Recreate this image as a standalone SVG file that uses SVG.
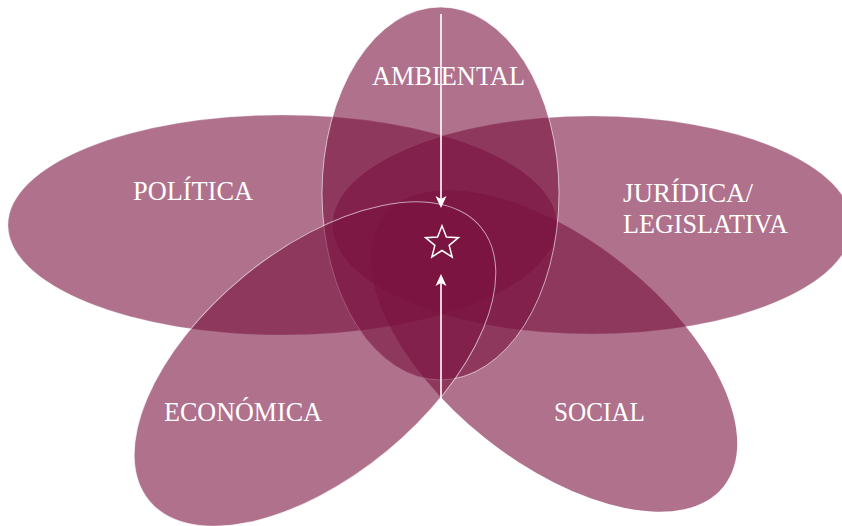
<svg xmlns="http://www.w3.org/2000/svg" width="842" height="526" viewBox="0 0 842 526">
  <style>
    .petal { fill: #7a1340; fill-opacity: 0.6; }
    .line-strong { stroke: #ffffff; stroke-opacity: 0.6; stroke-width: 1; }
    .line-faint { stroke: #ffffff; stroke-opacity: 0.22; stroke-width: 1; }
    .label { font-family: "Liberation Serif", "Times New Roman", serif; font-size: 28px; fill: #ffffff; }
    .conn { stroke: #ffffff; stroke-width: 1.6; fill: none; }
  </style>
  <defs>
    <marker id="arrow" viewBox="-6 -6 12 12" refX="0" refY="0" markerWidth="12" markerHeight="12" markerUnits="userSpaceOnUse" orient="auto">
      <path d="M6,0 L-6,-5.5 L-3,0 L-6,5.5 Z" fill="#ffffff"/>
    </marker>
  </defs>

  <g id="politica">
    <ellipse class="petal line-faint" cx="282.5" cy="225" rx="274.5" ry="110"/>
    <text class="label" x="133" y="200" textLength="120" lengthAdjust="spacingAndGlyphs">POLÍTICA</text>
  </g>

  <g id="juridica">
    <ellipse class="petal line-faint" cx="592" cy="225" rx="260" ry="109"/>
    <text class="label" x="623" y="202" textLength="130" lengthAdjust="spacingAndGlyphs">JURÍDICA/</text>
    <text class="label" x="623" y="233" textLength="165" lengthAdjust="spacingAndGlyphs">LEGISLATIVA</text>
  </g>

  <g id="social">
    <ellipse class="petal" cx="0" cy="0" rx="217" ry="111" transform="translate(554 351) rotate(38.6)"/>
    <text class="label" x="554" y="421" textLength="91" lengthAdjust="spacingAndGlyphs">SOCIAL</text>
  </g>

  <g id="ambiental">
    <ellipse class="petal line-strong" cx="440.5" cy="193.5" rx="118.5" ry="186.5"/>
    <text class="label" x="372" y="85" textLength="153" lengthAdjust="spacingAndGlyphs">AMBIENTAL</text>
  </g>

  <g id="economica">
    <ellipse class="petal line-strong" cx="0" cy="0" rx="215" ry="113" transform="translate(315 364) rotate(-39.5)"/>
    <text class="label" x="164" y="421" textLength="158" lengthAdjust="spacingAndGlyphs">ECONÓMICA</text>
  </g>

  <g id="center">
    <path d="M442,225.7 L446.41,236.93 L458.45,237.65 L449.13,245.32 L452.17,257 L442,250.5 L431.83,257 L434.87,245.32 L425.55,237.65 L437.59,236.93 Z" fill="none" stroke="#ffffff" stroke-width="1.5" stroke-linejoin="miter"/>
  </g>

  <g id="connectors">
    <line class="conn" x1="441" y1="14" x2="441" y2="202" marker-end="url(#arrow)"/>
    <line class="conn" x1="441" y1="398" x2="441" y2="280" marker-end="url(#arrow)"/>
  </g>
</svg>
